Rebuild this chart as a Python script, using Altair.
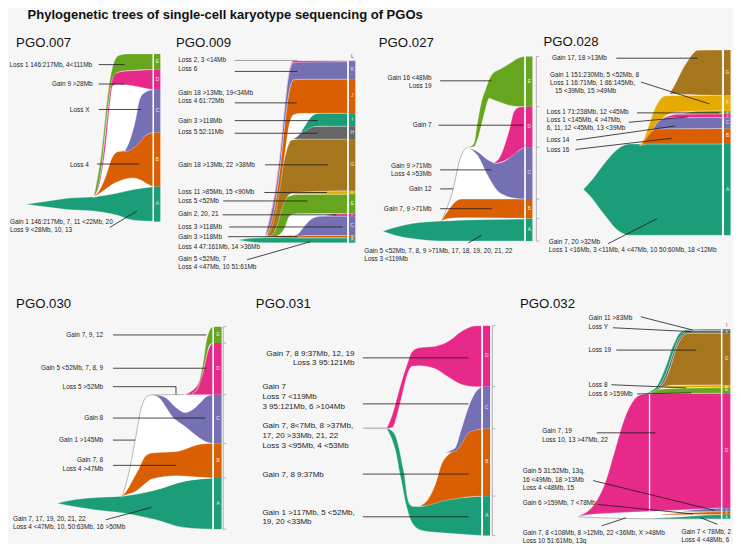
import altair as alt
import pandas as pd

TITLE = "Phylogenetic trees of single-cell karyotype sequencing of PGOs"

# Dark2 palette by clone letter (W = white parent envelope)
PALETTE = {
    "A": "#1b9e77", "B": "#d95f02", "C": "#7570b3", "D": "#e7298a",
    "E": "#66a61e", "F": "#e6ab02", "G": "#a6761d", "H": "#666666",
    "I": "#1b9e77", "J": "#d95f02", "K": "#7570b3", "L": "#e7298a",
    "W": "#ffffff",
}

# ---------- clone bands: (letter, x, top, bottom), drawn in list order ----------
P007_CLONES = [
    ("A", [18, 40, 60, 87, 110, 128, 148], [202, 199, 196, 194.5, 191, 187, 184], [202, 205, 207.5, 209, 213, 218.5, 219.5]),
    ("W", [87, 95, 100, 106, 113, 130, 148], [195, 162, 112, 72, 66, 65, 64], [195, 193, 192, 190, 189, 186, 184]),
    ("B", [87, 95, 100, 106, 112, 120, 128, 135, 142, 148], [195, 185, 173, 155, 148, 147, 143, 136, 130, 128.3], [195, 190, 186.5, 182, 179, 176, 175, 177, 181, 184]),
    ("C", [119, 125, 130, 135, 140, 148], [148, 135, 117, 93, 87, 84.3], [148, 146.5, 143, 138, 131.7, 128.3]),
    ("D", [88, 95, 100, 104, 107, 112, 120, 135, 148], [194, 168, 125, 88, 70, 66.5, 65, 64, 63.3], [194, 175, 140, 100, 80, 78.5, 79, 81.5, 84.3]),
    ("E", [88, 92, 96, 100, 104, 108, 113, 120, 148], [193, 172, 145, 107, 75, 57, 49, 47.3, 47.3], [194, 185, 160, 122, 88, 70, 66, 64.5, 63.3]),
]
P009_CLONES = [
    ("A", [235, 245, 255, 265, 280, 347], [239, 237.5, 236.8, 236.7, 236.7, 236.7], [239, 240.5, 241.5, 241.7, 241.7, 241.7]),
    ("W", [263, 268, 275, 282, 288, 295, 347], [235, 220, 180, 120, 80, 74, 74], [236, 236.5, 236.5, 236.5, 236.5, 236.5, 236.5]),
    ("B", [263, 280, 300, 347], [235, 234.5, 234.3, 234.3], [236, 236.5, 236.7, 236.7]),
    ("C", [290, 296, 302, 308, 314, 320, 347], [235, 233, 226, 219, 215.5, 214.5, 214.3], [235, 235, 234.5, 234.3, 234.3, 234.3, 234.3]),
    ("D", [325, 335, 347], [213, 212, 211.7], [213.5, 214.3, 214.3]),
    ("E", [267, 272, 278, 283, 288, 295, 347], [235, 231, 212, 196, 193.5, 192, 191.7], [236, 235.5, 233, 226, 214, 212, 211.7]),
    ("F", [290, 298, 347], [191, 189, 188.3], [192, 191.7, 191.7]),
    ("G", [265, 270, 275, 280, 285, 290, 300, 347], [235, 215, 195, 168, 146, 136, 135, 135], [235, 234, 224, 207, 195, 191, 189.5, 188.3]),
    ("H", [291, 296, 300, 305, 310, 347], [135, 132, 128, 124, 122, 121.7], [135, 135, 135, 135, 135, 135]),
    ("I", [300, 305, 310, 315, 320, 347], [127, 119, 112, 109, 108.3, 108.3], [128, 126, 123, 122, 121.7, 121.7]),
    ("J", [264, 268, 272, 278, 283, 287, 292, 300, 347], [235, 225, 208, 165, 118, 88, 74, 73.3, 73.3], [235, 230, 218, 185, 150, 122, 110, 108.5, 108.3]),
    ("K", [263, 268, 272, 278, 283, 287, 292, 300, 347], [234, 215, 195, 150, 100, 68, 56, 55.3, 55.3], [235, 225, 208, 165, 118, 88, 74, 73.3, 73.3]),
    ("L", [263, 268, 272, 278, 283, 287, 292, 347], [233, 213, 193, 148, 98, 66, 54.3, 54.3], [234, 215, 195, 150, 100, 68, 56, 55.3]),
]
P027_CLONES = [
    ("A", [383, 395, 413, 443, 480, 528], [230, 226, 222, 219.3, 218, 217.3], [230, 234, 237.5, 240, 240, 240]),
    ("W", [443.3, 449, 455, 460, 464, 470, 480, 490, 500, 510, 528], [219.3, 205, 186.7, 163, 150, 143.3, 146, 155, 160, 155, 143.3], [219.3, 219, 218.5, 218, 218, 218, 217.5, 217.3, 217.3, 217.3, 217.3]),
    ("B", [443, 450, 456.7, 463, 528], [219, 208.3, 200, 196.8, 196.7], [219, 216.7, 216.2, 216, 216.5]),
    ("C", [470, 480, 490, 500, 510, 518, 528], [143.3, 148, 156, 160, 156, 149, 143.3], [143.3, 152, 172, 188, 194, 196, 196.7]),
    ("D", [496, 503, 508, 513, 517, 523, 528], [160, 153, 140, 123, 107, 102, 101.7], [160, 159, 157, 154, 151, 146, 143.3]),
    ("E", [471, 476, 480, 484, 488, 492, 497, 503, 513, 523, 528], [143, 140, 117, 96, 84, 73, 66, 63, 57, 51, 50], [143.3, 143, 135, 120, 104, 93, 95, 97, 100.5, 101.5, 101.7]),
]
P028_CLONES = [
    ("A", [588, 596, 605, 612, 620, 628, 635, 730], [186.7, 178, 166, 157, 148, 142, 140, 140], [186.7, 195, 207, 216, 226, 232, 234, 234]),
    ("F", [645, 650, 656, 661, 667, 672, 685, 730], [141.7, 135, 118, 104, 93.5, 90.5, 90, 90], [141.7, 140, 135, 125, 116, 111, 107, 106]),
    ("C", [646, 652, 656, 661, 666, 675, 730], [141.5, 136, 131, 122, 116, 113, 112.7], [141.5, 140, 137, 130, 125.5, 124.5, 124.3]),
    ("B", [648, 653, 658, 663, 730], [140.5, 133, 127, 124.5, 124.3], [140.5, 140, 140, 140, 140]),
    ("D", [670, 685, 730], [113, 109.5, 109], [113.5, 112.8, 112.7]),
    ("E", [690, 705, 730], [109, 106.3, 106], [109, 109, 109]),
    ("G", [676, 681, 685, 690, 695, 700, 705, 730], [88.5, 80, 72, 62, 54, 47, 43.5, 43.3], [88.5, 88.6, 88.8, 89, 89.2, 89.4, 89.6, 90]),
]
P030_CLONES = [
    ("A", [50, 70, 90, 117, 150, 180, 209], [510, 506, 504, 502.7, 496.7, 487.3, 484], [510, 514, 517, 520, 526.7, 535, 536.7]),
    ("W", [116.7, 123.3, 130, 136.7, 143.3, 148.3, 180, 209], [502.7, 480, 445, 410, 399.3, 398.3, 398.3, 398.3], [502.7, 501, 500, 498.5, 497.5, 496.5, 487.3, 484]),
    ("B", [117, 122, 128, 134, 140, 147, 173, 193, 209], [502.7, 496, 485, 474, 462, 458.3, 456.7, 450, 448.3], [502.7, 501, 499, 495, 490, 485, 481.7, 483, 484]),
    ("C", [146.7, 155, 162, 168, 175, 181, 188, 196, 203, 209], [398.3, 399, 402, 408, 414, 416.7, 414, 407, 400, 398.3], [398.3, 402, 412, 421, 427, 431, 437, 443, 447, 448.3]),
    ("D", [180, 187, 193, 199, 203, 207, 209.3], [398.3, 395, 389, 376, 358, 347, 345], [398.3, 398.3, 398.3, 398.3, 398.3, 398.3, 398.3]),
    ("E", [188, 193, 199, 203, 206, 209.3], [397, 392, 368, 342, 332, 328.3], [397.5, 393.5, 376, 358, 347, 345]),
]
P031_CLONES = [
    ("A", [387, 393, 397, 400, 403, 405, 408, 410, 413, 417, 423, 437, 457, 484], [432.7, 436, 443, 455, 470, 480, 503, 510, 513, 513.5, 513.3, 508.3, 505, 502.7], [433, 446, 460, 477, 492, 503, 516, 523, 530, 535, 538, 540, 541.5, 543.3]),
    ("B", [420, 430, 437, 443, 450, 457, 470, 484], [513.3, 505, 490, 470, 460, 455, 437, 433.3], [513.3, 512, 510, 508, 506.7, 505.5, 503.5, 502.7]),
    ("C", [446.7, 452, 457, 463, 470, 477, 484], [458.3, 456, 453, 435, 413, 397, 390], [458.3, 457.5, 456.7, 450, 438.3, 435, 433.3]),
    ("D", [387, 393, 398, 403, 408, 413, 420, 437, 450, 463, 477, 484], [432.7, 418, 400, 382, 367, 354, 350, 348.3, 343.3, 333.3, 327.5, 327.3], [433, 432, 418, 398, 378, 369, 368.3, 371.7, 380, 387.5, 390, 390]),
]
P032_CLONES = [
    ("W", [583, 600, 640, 680, 729], [523.5, 521, 519, 516.5, 515], [523.5, 525, 526, 526, 526]),
    ("D", [583, 600, 610, 620, 630, 640, 647, 657, 729], [523.3, 510, 490, 456.7, 423.3, 403.3, 398.3, 397, 396.7], [523.5, 521, 520.5, 520, 519.5, 519, 518.7, 518.3, 515]),
    ("A", [660, 690, 710, 729], [525.5, 524, 522.5, 521.7], [526, 526.2, 526.2, 526.2]),
    ("B", [668, 690, 715, 729], [521.5, 520, 519, 518.7], [522.2, 522, 521.7, 521.7]),
    ("C", [690, 710, 729], [518, 516, 515], [518.5, 518.7, 518.7]),
    ("I", [651, 658, 662, 668, 672, 675, 678, 681, 685, 690, 695, 729], [397.5, 394, 391, 380, 370, 361.7, 352, 345, 336.7, 332.7, 331, 330.7], [397.5, 396, 394, 386, 378, 370, 361, 352, 342, 335.5, 332.3, 332]),
    ("H", [654, 662, 668, 672, 675, 678, 681, 685, 690, 695, 729], [397.5, 394, 386, 378, 370, 361, 352, 342, 335.5, 332.3, 332], [397.5, 395.5, 389, 383, 376, 367, 357, 346, 338, 335, 335]),
    ("G", [655, 662, 668, 672, 675, 678, 681, 685, 690, 695, 729], [397, 395.5, 389, 383, 376, 367, 357, 346, 338, 335, 335], [397, 396, 391, 389.5, 389, 388.5, 388.3, 388.3, 388.3, 388.3, 388.3]),
    ("F", [665, 680, 729], [390.5, 389, 388.3], [391, 391, 391]),
    ("E", [655, 670, 690, 729], [396.7, 392.5, 391.5, 391], [397.3, 397, 396.8, 396.7]),
]
ALL_CLONES = [P007_CLONES, P009_CLONES, P027_CLONES, P028_CLONES, P030_CLONES, P031_CLONES, P032_CLONES]

# thin outlined (zero-width / white) ancestral clones: (x, y)
STEMS = [
    ([443.3, 449, 455, 460, 464, 470], [219.3, 205, 186.7, 163, 150, 143.3]),
    ([116.7, 123.3, 130, 136.7, 143.3, 148.3, 180], [502.7, 480, 445, 410, 399.3, 398.3, 398.3]),
    ([583, 620, 660, 700, 729], [524, 525.5, 526, 526, 526]),
]

# ---------- clone-fraction bars at the final time point: (letter, top, bottom) ----------
P007_BAR = [("E", 47.3, 63.3), ("D", 63.3, 84.3), ("C", 84.3, 128.3), ("B", 128.3, 184), ("A", 184, 220)]
P009_BAR = [("L", 54.3, 55.3), ("K", 55.3, 73.3), ("J", 73.3, 108.3), ("I", 108.3, 121.7), ("H", 121.7, 135),
            ("G", 135, 188.3), ("F", 188.3, 191.7), ("E", 191.7, 211.7), ("D", 211.7, 214.3),
            ("C", 214.3, 234.3), ("B", 234.3, 236.7), ("A", 236.7, 241.7)]
P027_BAR = [("E", 50, 101.7), ("D", 101.7, 143.3), ("C", 143.3, 196.7), ("B", 196.7, 216.7), ("A", 217, 240)]
P028_BAR = [("G", 43.3, 90), ("F", 90, 106), ("E", 106, 109), ("D", 109, 112.7), ("C", 112.7, 124.3),
            ("B", 124.3, 140), ("A", 140, 234)]
P030_BAR = [("E", 328.3, 345), ("D", 345, 398.3), ("C", 398.3, 448.3), ("B", 448.3, 484), ("A", 484, 536.7)]
P031_BAR = [("D", 327.3, 390), ("C", 390, 433.3), ("B", 433.3, 502.7), ("A", 502.7, 543.3)]
P032_BAR = [("I", 330.7, 332), ("H", 332, 335), ("G", 335, 388.3), ("F", 388.3, 391), ("E", 391, 396.7),
            ("D", 396.7, 515), ("C", 515, 518.7), ("B", 518.7, 521.7), ("A", 521.7, 526)]
ALL_BARS = [P007_BAR, P009_BAR, P027_BAR, P028_BAR, P030_BAR, P031_BAR, P032_BAR]
BAR_X = [(148.6, 155.7), (347.6, 355), (528.4, 536), (731, 738.5), (209.8, 218.3), (484.7, 492.7), (729.4, 738.3)]
SCALE_AXES = [(540, [50, 101.7, 143.3, 196.7, 217, 240]),
              (220, [328.3, 345, 398.3, 448.3, 484, 536.7]),
              (495, [327.3, 390, 433.3, 502.7, 543.3])]

# ---------- panel titles ----------
PANEL_NAMES = ["PGO.007", "PGO.009", "PGO.027", "PGO.028", "PGO.030", "PGO.031", "PGO.032"]
PANEL_POS = [(8.3, 40), (171.7, 40), (379, 40), (547.3, 39.5), (8.3, 308.5), (253.3, 308.5), (523.3, 308.5)]

# ---------- event labels ----------
LABELS_RIGHT = [
    (86, 58.3, "Loss 1 146:217Mb, 4<111Mb"), (86.5, 78.3, "Gain 9 >28Mb"), (83.3, 105.2, "Loss X"), (82.7, 161.2, "Loss 4"),
    (433, 72.3, "Gain 16 <48Mb"), (433, 80.3, "Loss 19"), (433, 120.7, "Gain 7"), (433, 163, "Gain 9 >71Mb"),
    (433, 171, "Loss 4 >53Mb"), (433, 186.3, "Gain 12"), (433, 207, "Gain 7, 9 >71Mb"),
    (97.3, 336.7, "Gain 7, 9, 12"), (97.3, 371, "Gain 5 <52Mb, 7, 8, 9"), (97.3, 390, "Loss 5 >52Mb"),
    (97.3, 422.3, "Gain 8"), (97.3, 445, "Gain 1 >145Mb"), (97.3, 466, "Gain 7, 8"), (97.3, 474.3, "Loss 4 >47Mb"),
]
LABELS_RIGHT_LARGE = [(354, 356, "Gain 7, 8 9:37Mb, 12, 19"), (354, 366, "Loss 3 95:121Mb")]
LABELS_LEFT = [
    (2, 220.3, "Gain 1 146:217Mb, 7, 11 <22Mb, 20"), (2, 228.7, "Loss 9 <28Mb, 10, 13"),
    (174, 53.3, "Loss 2, 3 <14Mb"), (174, 63.3, "Loss 6"), (174, 87.3, "Gain 18 >13Mb, 19<34Mb"),
    (174, 95.7, "Loss 4 61:72Mb"), (174, 116, "Gain 3 >118Mb"), (174, 127.3, "Loss 5 52:11Mb"),
    (174, 161.7, "Gain 18 >13Mb, 22 >38Mb"), (174, 190, "Loss 11 >85Mb, 15 <90Mb"), (174, 199, "Loss 5 <52Mb"),
    (174, 212, "Gain 2, 20, 21"), (174, 225.3, "Loss 3 >118Mb"), (174, 236.3, "Gain 3 >118Mb"),
    (174, 246, "Loss 4 47:161Mb, 14 >36Mb"), (174, 258.3, "Gain 5 <52Mb, 7"), (174, 266.7, "Loss 4 <47Mb, 10 51:61Mb"),
    (364, 250, "Gain 5 <52Mb, 7, 8, 9 >71Mb, 17, 18, 19, 20, 21, 22"), (364, 258.3, "Loss 3 <119Mb"),
    (556, 51.7, "Gain 17, 18 >13Mb"), (554, 69.3, "Gain 1 151:230Mb, 5 <52Mb, 8"),
    (554, 77.7, "Loss 1 16:71Mb, 1 86:145Mb,"), (559, 85.7, "15 <39Mb, 15 >49Mb"),
    (550.7, 106.7, "Loss 1 71:238Mb, 12 <45Mb"), (550.7, 115.3, "Loss 1 <145Mb, 4 >47Mb,"),
    (550.7, 124, "6, 11, 12 <45Mb, 13 <39Mb"), (550.7, 136, "Loss 14"), (550.7, 146, "Loss 16"),
    (552.7, 241, "Gain 7, 20 >32Mb"), (552.7, 249.3, "Loss 1 <16Mb, 3 <11Mb, 4 <47Mb, 10 50:60Mb, 18 <12Mb"),
    (5, 526.7, "Gain 7, 17, 19, 20, 21, 22"), (5, 534.3, "Loss 4 <47Mb, 10, 50:63Mb, 16 >50Mb"),
    (593.3, 319, "Gain 11 >83Mb"), (593.3, 329, "Loss Y"), (593.3, 352.3, "Loss 19"), (593.3, 388, "Loss 8"),
    (593.3, 397.3, "Loss 6 >159Mb"), (546, 435.7, "Gain 7, 19"), (546, 445, "Loss 10, 13 >47Mb, 22"),
    (526, 477.3, "Gain 5 31:52Mb, 13q,"), (526, 485.7, "16 <49Mb, 18 >13Mb"), (526, 494, "Loss 4 <48Mb, 15"),
    (526, 509.3, "Gain 6 >159Mb, 7 <78Mb"), (526, 540.7, "Gain 7, 8 <108Mb, 8 >12Mb, 22 <36Mb, X >48Mb"),
    (526, 548.7, "Loss 10 51:61Mb, 13q"), (688.3, 539.3, "Gain 7 < 78Mb, 2"), (688.3, 547.7, "Loss 4 <48Mb, 6"),
]
LABELS_LEFT_LARGE = [
    (260, 390.7, "Gain 7"), (260, 400.7, "Loss 7 <119Mb"), (260, 411, "3 95:121Mb, 6 >104Mb"),
    (260, 430.7, "Gain 7, 8<7Mb, 8 >37Mb,"), (260, 441, "17, 20 >33Mb, 21, 22"), (260, 451, "Loss 3 <95Mb, 4 <53Mb"),
    (260, 480.7, "Gain 7, 8 9:37Mb"), (260, 520, "Gain 1 >117Mb, 5 <52Mb,"), (260, 529.3, "19, 20 <33Mb"),
]

# ---------- leader lines: (x1, y1, x2, y2, dark?) ----------
LEADERS = [
    (92.7, 58.3, 119.3, 58.3, 1), (92.7, 78.3, 119.3, 78.3, 1), (92.7, 104.5, 136, 104.5, 1), (91, 160.7, 134, 160.7, 1),
    (104, 226, 132, 209, 1),
    (231.7, 54, 296, 54, 0), (231.7, 65.3, 296, 65.3, 1), (231.7, 97.7, 295, 97.7, 1), (231.7, 116, 316.7, 116, 1),
    (231.7, 129, 316, 129, 1), (262.7, 161.5, 326.7, 161.5, 1), (262, 190, 326, 190, 1), (220, 198.7, 306, 198.7, 1),
    (219.3, 213, 335.7, 213, 1), (226, 225.5, 342, 225.5, 1), (225, 235.5, 296, 235.5, 1), (244.3, 259.3, 309, 240.7, 1),
    (441.7, 75, 494.3, 75, 1), (440, 120.7, 527, 120.7, 1), (441.7, 166.7, 494.3, 166.7, 1), (441.7, 186.3, 455, 186.3, 1),
    (441.7, 206.7, 494.3, 206.7, 1), (470.5, 242, 484, 234, 1),
    (621.7, 51.7, 705, 51.7, 1), (647, 76.3, 717, 98.8, 1), (643, 108, 727, 108, 1), (634.5, 117.7, 694.5, 112.2, 1),
    (580.7, 136, 682, 121.5, 1), (580, 145.7, 678.3, 134.2, 1), (613.3, 242.7, 663.3, 217, 1),
    (107.3, 336.7, 202.7, 336.7, 1), (107.3, 371, 202.7, 371, 1), (107.3, 390, 171.7, 390, 1),
    (171.7, 390, 171.7, 398.3, 1), (107.3, 422.3, 201.7, 422.3, 1), (107.3, 445, 130, 445, 1),
    (107.3, 471, 171.7, 471, 1), (100, 527, 146.7, 514.3, 1),
    (363, 432.7, 387, 432.7, 0), (362.7, 360.3, 470.7, 360.3, 1), (362.7, 407.7, 470.7, 407.7, 1),
    (362.7, 480, 470.7, 480, 1), (362.7, 524, 470.7, 524, 1),
    (646.7, 318, 700, 331.7, 1), (618.3, 329.3, 698.3, 333.3, 1), (621.7, 352.3, 703.3, 352.3, 1),
    (616.7, 388, 693.3, 391.2, 1), (643, 397.5, 698.3, 396.3, 1), (601.7, 437.5, 661.7, 437.5, 1),
    (598, 486.7, 722.5, 517.5, 1), (603, 511.3, 700, 521, 1), (606.7, 533.3, 631.7, 525, 1),
    (725, 531.7, 708.3, 525, 1),
]

# ---------------- build tables ----------------
XS = alt.Scale(domain=[0, 741], nice=False, zero=False)
YS = alt.Scale(domain=[0, 552], reverse=True, nice=False, zero=False)
INK = "#1c1c1c"
FONT = "Liberation Sans"

rows = []
k = 0
for clones in ALL_CLONES:
    for letter, xs, tops, bots in clones:
        cid = f"c{k:03d}"
        k += 1
        for x, t, b in zip(xs, tops, bots):
            rows.append({"cid": cid, "x": x, "top": t, "bot": b, "col": PALETTE[letter]})
area_df = pd.DataFrame(rows)

stem_rows = []
for i, (xs, ys) in enumerate(STEMS):
    for x, y in zip(xs, ys):
        stem_rows.append({"sid": f"s{i}", "x": x, "y": y})
stem_df = pd.DataFrame(stem_rows)

bar_rows, letter_rows, white_rows = [], [], []
for bars, (x0, x1) in zip(ALL_BARS, BAR_X):
    for letter, t, b in bars:
        h = b - t
        bar_rows.append({"x": x0 + 0.6, "x2": x1, "y": t, "y2": b, "col": PALETTE[letter]})
        if h < 2:
            letter_rows.append({"x": (x0 + x1) / 2 + 0.6, "y": t - 3.5, "t": letter, "c": INK, "s": 4.8})
        else:
            letter_rows.append({"x": (x0 + x1) / 2 + 0.6, "y": (t + b) / 2, "t": letter, "c": "#ffffff",
                                "s": 4.8 if h >= 5 else 3.0})
    white_rows.append({"x": x0, "x2": x0, "y": bars[0][1], "y2": bars[-1][2]})
bar_df = pd.DataFrame(bar_rows)
letter_df = pd.DataFrame(letter_rows)
white_df = pd.DataFrame(white_rows + [{"x": 655.7, "x2": 655.7, "y": 397.5, "y2": 518}])

axis_rows = []
for ax, ticks in SCALE_AXES:
    axis_rows.append({"x": ax, "x2": ax, "y": ticks[0], "y2": ticks[-1]})
    for t in ticks:
        axis_rows.append({"x": ax, "x2": ax + 3, "y": t, "y2": t})
axis_df = pd.DataFrame(axis_rows)

lead_df = pd.DataFrame([{"x": a, "y": b, "x2": c, "y2": d, "c": INK if dk else "#8a8a8a"}
                        for a, b, c, d, dk in LEADERS])


def tdf(items, size):
    return pd.DataFrame([{"x": x, "y": y, "t": t, "s": size} for x, y, t in items])


X = lambda f="x": alt.X(f"{f}:Q", scale=XS, axis=None)
Y = lambda f="y": alt.Y(f"{f}:Q", scale=YS, axis=None)

areas = alt.Chart(area_df).mark_area(
    interpolate="monotone", stroke="white", strokeWidth=0.35, strokeOpacity=0.9
).encode(
    x=X(), y=alt.Y("top:Q", scale=YS, axis=None, stack=None), y2="bot:Q",
    color=alt.Color("col:N", scale=None), detail="cid:N",
)
stems = alt.Chart(stem_df).mark_line(interpolate="monotone", color="#9a9a9a", strokeWidth=0.7).encode(
    x=X(), y=Y(), detail="sid:N"
)
bars = alt.Chart(bar_df).mark_rect().encode(
    x=X(), x2="x2:Q", y=Y(), y2="y2:Q", color=alt.Color("col:N", scale=None)
)
whites = alt.Chart(white_df).mark_rule(color="white", strokeWidth=1.3).encode(x=X(), x2="x2:Q", y=Y(), y2="y2:Q")
axes = alt.Chart(axis_df).mark_rule(color="#a0a0a0", strokeWidth=0.8).encode(x=X(), x2="x2:Q", y=Y(), y2="y2:Q")
leads = alt.Chart(lead_df).mark_rule(strokeWidth=0.8).encode(
    x=X(), y=Y(), x2="x2:Q", y2="y2:Q", color=alt.Color("c:N", scale=None)
)
letters = alt.Chart(letter_df).mark_text(font=FONT, baseline="middle", align="center", opacity=0.85).encode(
    x=X(), y=Y(), text="t:N", color=alt.Color("c:N", scale=None), size=alt.Size("s:Q", scale=None)
)


def text_layer(df, align):
    return alt.Chart(df).mark_text(font=FONT, align=align, baseline="middle", color=INK).encode(
        x=X(), y=Y(), text="t:N", size=alt.Size("s:Q", scale=None)
    )


lab_r = text_layer(pd.concat([tdf(LABELS_RIGHT, 6.45), tdf(LABELS_RIGHT_LARGE, 8.0)]), "right")
lab_l = text_layer(pd.concat([tdf(LABELS_LEFT, 6.45), tdf(LABELS_LEFT_LARGE, 8.0)]), "left")

ptitle_df = pd.DataFrame([{"x": x, "y": y, "t": n} for n, (x, y) in zip(PANEL_NAMES, PANEL_POS)])
ptitles = alt.Chart(ptitle_df).mark_text(font=FONT, fontSize=13.2, align="left", baseline="alphabetic", color="#111").encode(
    x=X(), y=Y(), text="t:N"
)
title_df = pd.DataFrame([{"x": 20, "y": 11.3, "t": TITLE}])
title = alt.Chart(title_df).mark_text(font=FONT, fontSize=13, fontWeight="bold", align="left",
                                      baseline="alphabetic", color="#111").encode(x=X(), y=Y(), text="t:N")

chart = alt.layer(
    areas, stems, bars, whites, axes, leads, letters, lab_r, lab_l, ptitles, title
).properties(
    width=725, height=536, background="#f6f6f6", padding=0,
    autosize=alt.AutoSizeParams(type="none"),
).configure_view(stroke=None)

chart.save("out.html", embed_options={"renderer": "svg", "actions": False})
